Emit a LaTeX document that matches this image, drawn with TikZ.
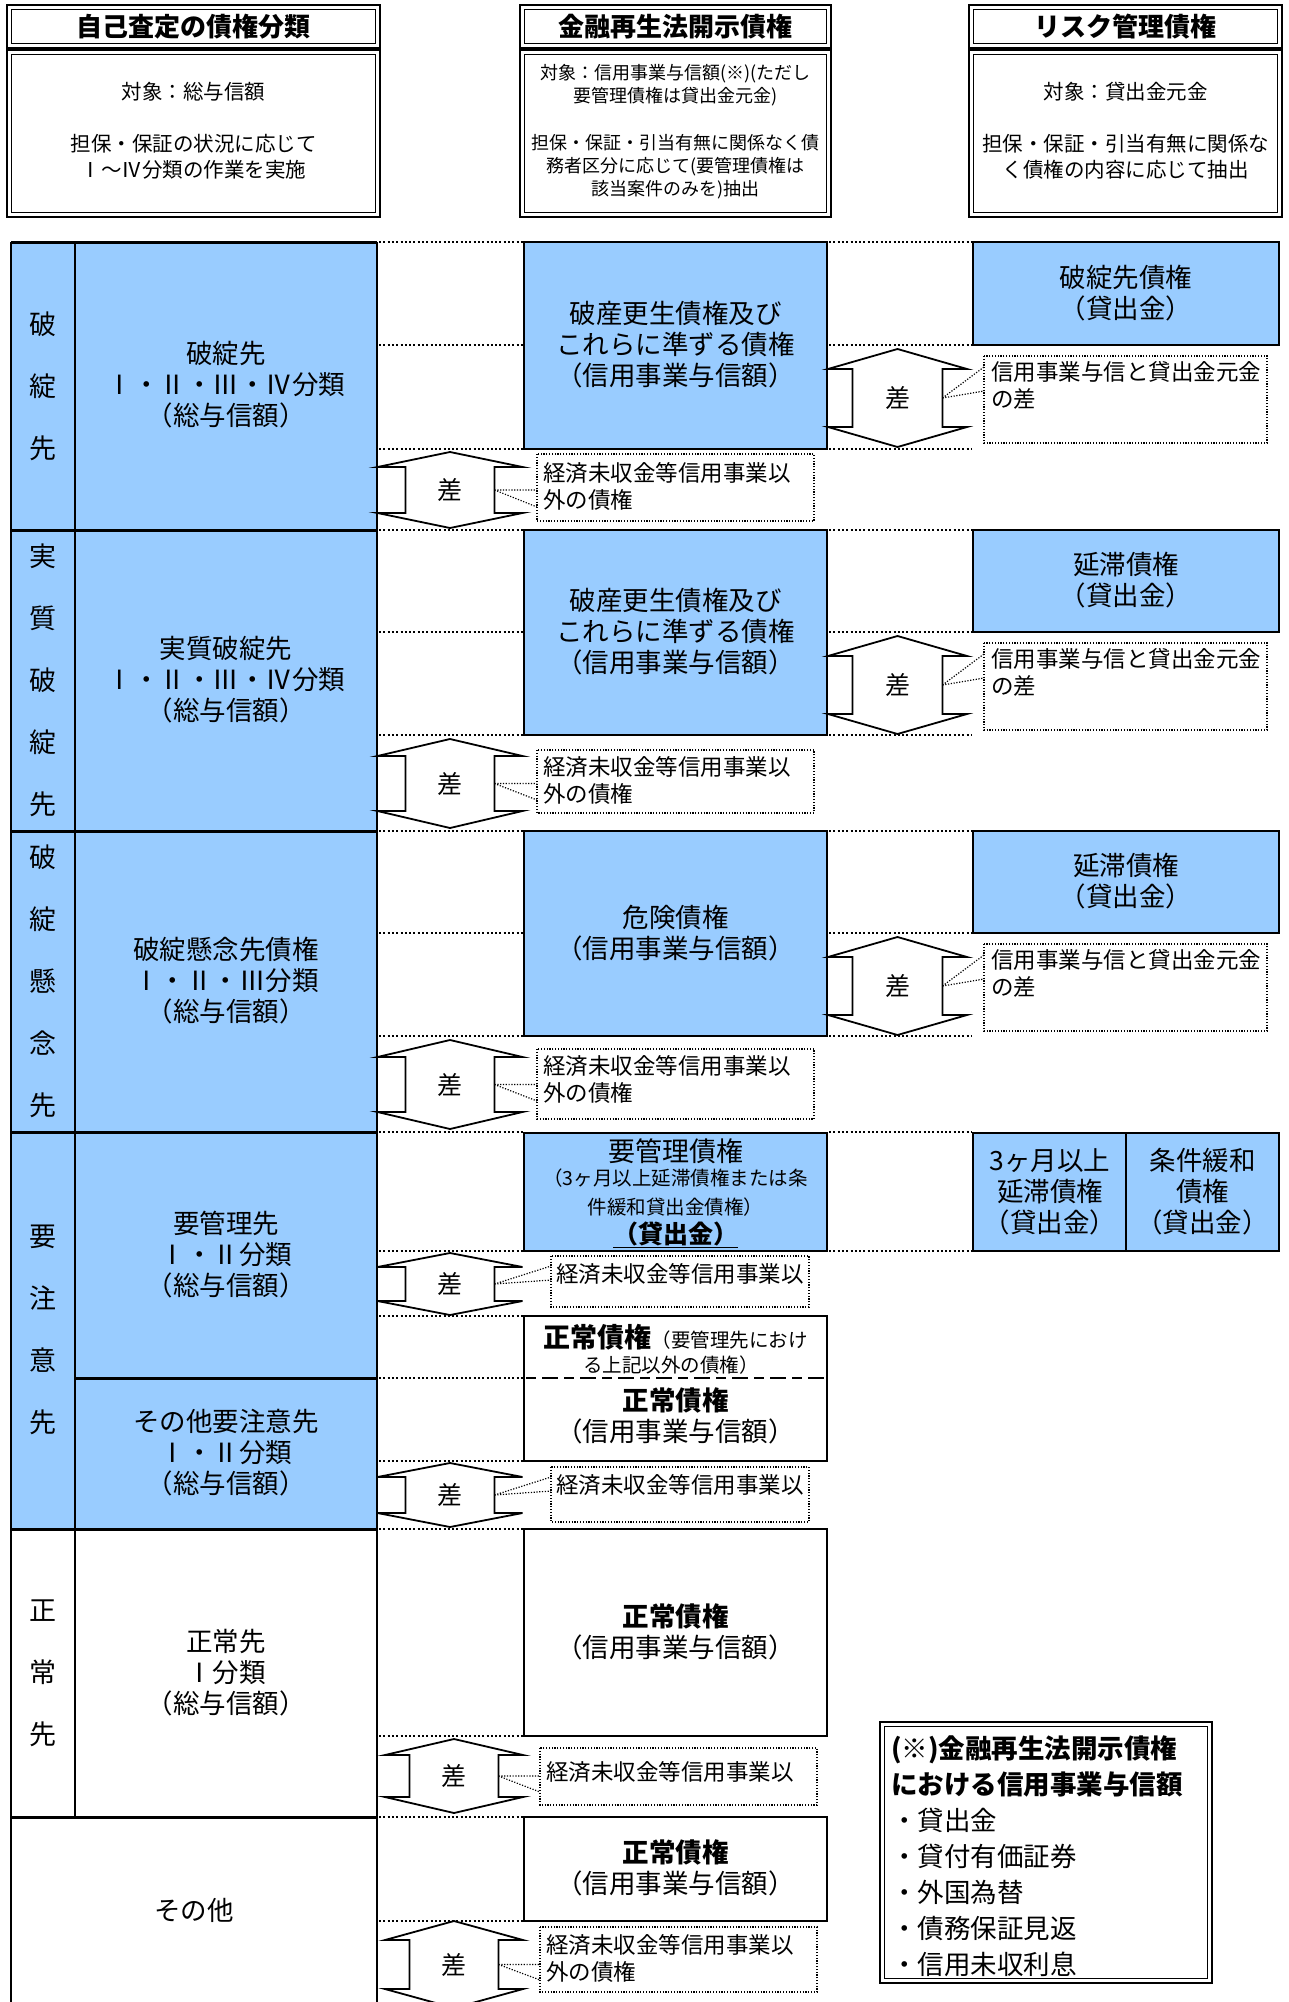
\documentclass[tikz,border=0pt]{standalone}
\usepackage{fontspec}
\setmainfont{Noto Sans CJK JP}
\definecolor{bl}{RGB}{153,204,255}
\newcommand\myfs[2]{\fontsize{#1}{#2}\selectfont}
% double arrow: #1 name, #2 cx, #3 ytop, #4 ybot, #5 head h, #6 head half w, #7 shaft half w
\newcommand\darr[7]{%
  \draw[arr] (#2,#3) -- ({#2+#6},{#3+#5}) -- ({#2+#7},{#3+#5}) -- ({#2+#7},{#4-#5}) -- ({#2+#6},{#4-#5}) -- (#2,#4) -- ({#2-#6},{#4-#5}) -- ({#2-#7},{#4-#5}) -- ({#2-#7},{#3+#5}) -- ({#2-#6},{#3+#5}) -- cycle;
  \node[txt,font=\myfs{25}{30}] (#1) at (#2,{(#3+#4)/2}) {差};
  \coordinate (#1p) at ({#2+#7},{(#3+#4)/2});
}
% callout: #1 name, #2 x1, #3 y1, #4 x2, #5 y2, #6 pointer, #7 ya, #8 yb
\newcommand\callout[8]{%
  \draw[co,fill=white] (#2,#3) rectangle (#4,#5);
  \coordinate (#1a) at (#2,#7);
  \coordinate (#1b) at (#2,#8);
  \draw[co] (#6) -- (#1a) (#6) -- (#1b);
}
\newcommand\gA[1]{\draw[gd] (379,#1) -- (523,#1);}
\newcommand\gB[1]{\draw[gd] (829,#1) -- (972,#1);}
\newcommand\dbox[4]{%
  \draw[line width=2.6pt] (#1,#2) rectangle (#3,#4);
  \draw[line width=1pt] ({#1+4.5},{#2+4.5}) rectangle ({#3-4.5},{#4-4.5});
}
\begin{document}
\begin{tikzpicture}[x=1pt,y=-1pt,
  box/.style={line width=2.6pt},
  colline/.style={line width=2pt},
  sepline/.style={line width=3pt},
  gd/.style={line width=2pt, dash pattern=on 2pt off 2.3pt},
  co/.style={line width=1.2pt, dash pattern=on 1.2pt off 1.6pt},
  arr/.style={line width=1.8pt, fill=white, line join=miter},
  txt/.style={inner sep=0pt, align=center, font=\myfs{26.5}{31}},
  vt/.style={txt, font=\myfs{27}{62}},
  cot/.style={inner sep=0pt, align=left, anchor=north west, font=\myfs{22.5}{27}},
  ht/.style={inner sep=0pt, align=center, font=\bfseries\myfs{26}{30}},
]
\useasboundingbox[fill=white] (0,0) rectangle (1288,2002);

% ---------- header ----------
\dbox{7}{5}{380}{48}
\dbox{7}{50}{380}{217}
\dbox{520}{5}{831}{48}
\dbox{520}{50}{831}{217}
\dbox{969}{5}{1282}{48}
\dbox{969}{50}{1282}{217}
\node[ht] (h1) at (193.5,27) {自己査定の債権分類};
\node[ht] (h2) at (675.5,27) {金融再生法開示債権};
\node[ht] (h3) at (1125.5,27) {リスク管理債権};
\node[txt,font=\myfs{20.5}{26}] (h1a) at (193.5,92) {対象：総与信額};
\node[txt,font=\myfs{20.5}{26}] (h1b) at (193.5,157) {担保・保証の状況に応じて\\Ⅰ～Ⅳ分類の作業を実施};
\node[txt,font=\myfs{18}{23}] (h2a) at (675.5,85.5) {対象：信用事業与信額(※)(ただし\\要管理債権は貸出金元金)};
\node[txt,font=\myfs{18}{23}] (h2b) at (675.5,167) {担保・保証・引当有無に関係なく債\\務者区分に応じて(要管理債権は\\該当案件のみを)抽出};
\node[txt,font=\myfs{20.5}{26}] (h3a) at (1125.5,92) {対象：貸出金元金};
\node[txt,font=\myfs{20.5}{26}] (h3b) at (1125.5,157) {担保・保証・引当有無に関係な\\く債権の内容に応じて抽出};

% ---------- left column ----------
\fill[bl] (11,242) rectangle (377,1529);
\draw[colline] (11,242) -- (11,2002);
\draw[colline] (377,242) -- (377,2002);
\draw[colline] (75,242) -- (75,1817);
\foreach \yy in {242,530,831,1132,1529,1817} {\draw[sepline] (11,\yy) -- (377,\yy);}
\draw[sepline] (75,1378) -- (377,1378);

% ---------- guide lines ----------
\foreach \yy in {242,345,449,530,632,735,831,933,1036,1132,1251,1316,1378,1461,1529,1736,1817,1921} {\gA{\yy}}
\foreach \yy in {242,345,449,530,632,735,831,933,1036,1132,1251} {\gB{\yy}}

% ---------- middle column ----------
\draw[box,fill=bl] (524,242) rectangle (827,449);
\draw[box,fill=bl] (524,530) rectangle (827,735);
\draw[box,fill=bl] (524,831) rectangle (827,1036);
\draw[box,fill=bl] (524,1133) rectangle (827,1251);
\draw[box,fill=white] (524,1316) rectangle (827,1461);
\draw[line width=2.2pt, dash pattern=on 10pt off 6pt on 16pt off 6pt] (526,1378) -- (825,1378);
\draw[box,fill=white] (524,1529) rectangle (827,1736);
\draw[box,fill=white] (524,1817) rectangle (827,1921);

% ---------- right column ----------
\draw[box,fill=bl] (973,242) rectangle (1279,345);
\draw[box,fill=bl] (973,530) rectangle (1279,632);
\draw[box,fill=bl] (973,831) rectangle (1279,933);
\draw[box,fill=bl] (973,1133) rectangle (1126,1251);
\draw[box,fill=bl] (1126,1133) rectangle (1279,1251);

% ---------- arrows ----------
\darr{a1}{450}{452}{528}{15}{72.5}{44.5}
\darr{a2}{450}{739}{828}{17}{72.5}{44.5}
\darr{a3}{450}{1040}{1129}{17}{72.5}{44.5}
\darr{a4}{450}{1253}{1315}{14}{72.5}{44.5}
\darr{a5}{450}{1463}{1527}{14}{72.5}{44.5}
\darr{a6}{454}{1739}{1813}{16}{69}{44.5}
\darr{a7}{454}{1921}{2008}{19}{69}{44.5}
\darr{b1}{897.5}{349}{447}{20}{69.5}{45}
\darr{b2}{897.5}{636}{734}{20}{69.5}{45}
\darr{b3}{897.5}{937}{1035}{20}{69.5}{45}

% ---------- callouts ----------
\callout{c1}{537}{454}{814}{521}{a1p}{490}{507}
\callout{c2}{537}{750}{814}{813}{a2p}{783.5}{800}
\callout{c3}{537}{1049}{814}{1119}{a3p}{1084.5}{1101}
\callout{c4}{551}{1256}{809}{1307}{a4p}{1266}{1280}
\callout{c5}{551}{1467}{809}{1522}{a5p}{1477}{1491}
\callout{c6}{540}{1748}{817}{1805}{a6p}{1776}{1792}
\callout{c7}{540}{1927}{817}{1992}{a7p}{1964.5}{1980}
\callout{d1}{984}{356}{1267}{443}{b1p}{367}{391}
\callout{d2}{984}{643}{1267}{730}{b2p}{654}{678}
\callout{d3}{984}{944}{1267}{1031}{b3p}{955}{979}
\node[cot] (c1t) at (543,462) {経済未収金等信用事業以\\外の債権};
\node[cot] (c2t) at (543,756) {経済未収金等信用事業以\\外の債権};
\node[cot] (c3t) at (543,1055) {経済未収金等信用事業以\\外の債権};
\node[cot] (c4t) at (556,1263) {経済未収金等信用事業以};
\node[cot] (c5t) at (556,1474) {経済未収金等信用事業以};
\node[cot] (c6t) at (546,1761) {経済未収金等信用事業以};
\node[cot] (c7t) at (546,1934) {経済未収金等信用事業以\\外の債権};
\node[cot] (d1t) at (991,361) {信用事業与信と貸出金元金\\の差};
\node[cot] (d2t) at (991,648) {信用事業与信と貸出金元金\\の差};
\node[cot] (d3t) at (991,949) {信用事業与信と貸出金元金\\の差};

% ---------- left texts ----------
\node[vt] (v1) at (43,386) {破\\綻\\先};
\node[vt] (v2) at (43,680) {実\\質\\破\\綻\\先};
\node[vt] (v3) at (43,981) {破\\綻\\懸\\念\\先};
\node[vt] (v4) at (43,1330) {要\\注\\意\\先};
\node[vt] (v5) at (43,1673) {正\\常\\先};
\node[txt] (l1) at (226,385) {破綻先\\Ⅰ・Ⅱ・Ⅲ・Ⅳ分類\\（総与信額）};
\node[txt] (l2) at (226,680) {実質破綻先\\Ⅰ・Ⅱ・Ⅲ・Ⅳ分類\\（総与信額）};
\node[txt] (l3) at (226,981) {破綻懸念先債権\\Ⅰ・Ⅱ・Ⅲ分類\\（総与信額）};
\node[txt] (l4) at (226,1255) {要管理先\\Ⅰ・Ⅱ分類\\（総与信額）};
\node[txt] (l5) at (226,1453) {その他要注意先\\Ⅰ・Ⅱ分類\\（総与信額）};
\node[txt] (l6) at (226,1673) {正常先\\Ⅰ分類\\（総与信額）};
\node[txt] (l7) at (194,1910) {その他};

% ---------- middle texts ----------
\node[txt] (m1) at (675.5,345) {破産更生債権及び\\これらに準ずる債権\\（信用事業与信額）};
\node[txt] (m2) at (675.5,632) {破産更生債権及び\\これらに準ずる債権\\（信用事業与信額）};
\node[txt] (m3) at (675.5,933) {危険債権\\（信用事業与信額）};
\node[txt,font=\myfs{27}{31}] (m4a) at (675.5,1151) {要管理債権};
\node[txt,font=\myfs{19.5}{29}] (m4b) at (675.5,1193) {（3ヶ月以上延滞債権または条\\件緩和貸出金債権）};
\node[txt,font=\bfseries\myfs{25}{29}] (m4c) at (675.5,1235) {\underline{（貸出金）}};
\node[txt] (m5a) at (675.5,1337) {{\bfseries\myfs{27}{31}正常債権}{\myfs{19.5}{24}（要管理先におけ}};
\node[txt,font=\myfs{19.5}{24}] (m5b) at (671,1365) {る上記以外の債権）};
\node[txt] (m6) at (675.5,1416) {{\bfseries 正常債権}\\（信用事業与信額）};
\node[txt] (m7) at (675.5,1632) {{\bfseries 正常債権}\\（信用事業与信額）};
\node[txt] (m8) at (675.5,1868) {{\bfseries 正常債権}\\（信用事業与信額）};

% ---------- right texts ----------
\node[txt] (r1) at (1126,293) {破綻先債権\\（貸出金）};
\node[txt] (r2) at (1126,580) {延滞債権\\（貸出金）};
\node[txt] (r3) at (1126,881) {延滞債権\\（貸出金）};
\node[txt] (r4a) at (1050,1192) {3ヶ月以上\\延滞債権\\（貸出金）};
\node[txt] (r4b) at (1202.5,1192) {条件緩和\\債権\\（貸出金）};

% ---------- footnote ----------
\dbox{880}{1722}{1212}{1983}
\node[inner sep=0pt, align=left, anchor=north west, font=\myfs{26.5}{36}] (fn) at (891,1735)
  {{\bfseries (※)金融再生法開示債権}\\{\bfseries における信用事業与信額}\\・貸出金\\・貸付有価証券\\・外国為替\\・債務保証見返\\・信用未収利息};
\end{tikzpicture}
\end{document}
